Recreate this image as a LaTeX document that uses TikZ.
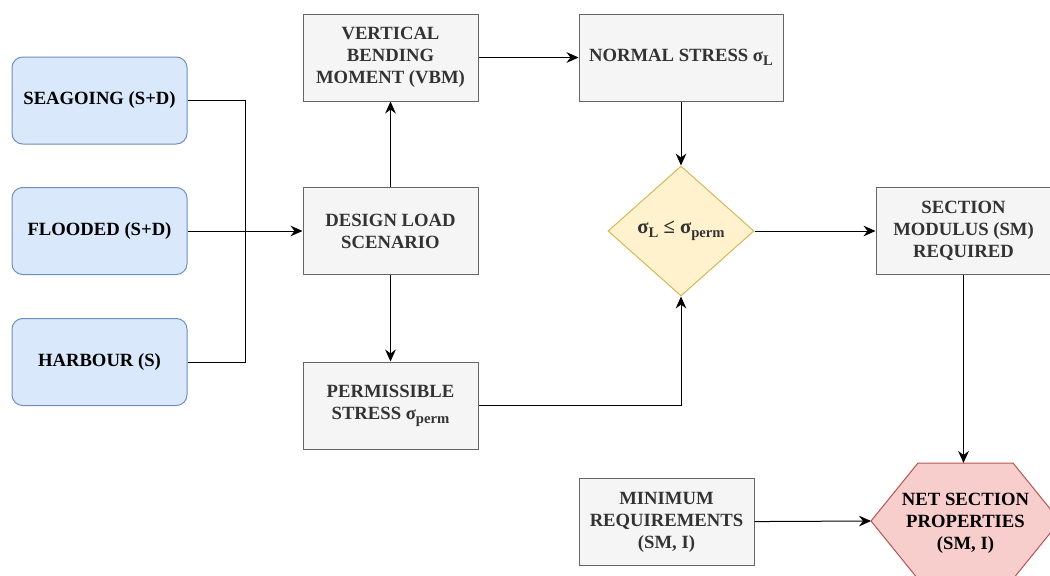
\documentclass[tikz,border=0pt]{standalone}
\usepackage{fontspec}
\setmainfont{Liberation Serif}
\usetikzlibrary{shapes.geometric,arrows.meta}

\definecolor{scenfill}{HTML}{DAE8FC}
\definecolor{scenline}{HTML}{6C8EBF}
\definecolor{procfill}{HTML}{F5F5F5}
\definecolor{procline}{HTML}{666666}
\definecolor{proctext}{HTML}{333333}
\definecolor{checkfill}{HTML}{FFF2CC}
\definecolor{checkline}{HTML}{D6B656}
\definecolor{resfill}{HTML}{F8CECC}
\definecolor{resline}{HTML}{B85450}

% lowered index for the stress symbols
\newcommand{\subtxt}[1]{\raisebox{-0.45ex}{\fontsize{11}{12}\selectfont #1}}

\tikzset{
    every node/.style={font=\fontsize{14}{16.5}\selectfont\bfseries, align=center},
    scen/.style={draw=scenline, fill=scenfill, rounded corners=8pt,
        minimum width=131.25pt, minimum height=65.25pt},
    proc/.style={draw=procline, fill=procfill, text=proctext,
        minimum width=131.25pt, minimum height=65.25pt},
    check/.style={diamond, draw=checkline, fill=checkfill, text=proctext,
        inner sep=0pt, minimum width=109.5pt, minimum height=97.5pt,
        font=\fontsize{15.5}{18}\selectfont\bfseries},
    result/.style={draw=resline, fill=resfill},
    flow/.style={-{Stealth[length=9pt, width=8pt, inset=3pt]}},
}

\begin{document}
\begin{tikzpicture}[x=0.75pt, y=-0.75pt, line width=0.75pt]

    \useasboundingbox (0,0) rectangle (1050,575);

    % load cases
    \node[scen] (sea) at (99.5,100.5) {SEAGOING (S+D)};
    \node[scen] (fld) at (99.5,231) {FLOODED (S+D)};
    \node[scen] (har) at (99.5,362) {HARBOUR (S)};

    % hull girder chain
    \node[proc] (load) at (390.5,231) {DESIGN LOAD\\SCENARIO};
    \node[proc] (vbm) at (390.5,57.5) {VERTICAL\\BENDING\\MOMENT (VBM)};
    \node[proc] (perm) at (390.5,405.5) {PERMISSIBLE\\STRESS σ\subtxt{perm}};
    \node[proc, minimum width=153pt] (nstr) at (681,57.5) {NORMAL STRESS σ\subtxt{L}};
    \node[check] (chk) at (681,231) {σ\subtxt{L} ≤ σ\subtxt{perm}};
    \node[proc] (smreq) at (963.5,231) {SECTION\\MODULUS (SM)\\REQUIRED};
    \node[proc] (minreq) at (666.5,522) {MINIMUM\\REQUIREMENTS\\(SM, I)};

    % hexagon for the net properties
    \coordinate (net-w) at (871,521);
    \coordinate (net-n) at (963.5,463);
    \draw[result] (net-w) -- (918,463) -- (1013,463) -- (1060,521)
        -- (1013,579) -- (918,579) -- cycle;
    \node (net) at (965.5,523) {NET SECTION\\PROPERTIES\\(SM, I)};

    \coordinate (join) at (245,231);

    \draw (sea) -| (join);
    \draw (har) -| (join);
    \draw[flow] (fld) -- (load);
    \draw[flow] (load) -- (vbm);
    \draw[flow] (load) -- (perm);
    \draw[flow] (vbm) -- (nstr);
    \draw[flow] (nstr) -- (chk);
    \draw[flow] (perm) -| (chk);
    \draw[flow] (chk) -- (smreq);
    \draw[flow] (smreq) -- (net-n);
    \draw[flow] (minreq) -- (net-w);

\end{tikzpicture}
\end{document}
